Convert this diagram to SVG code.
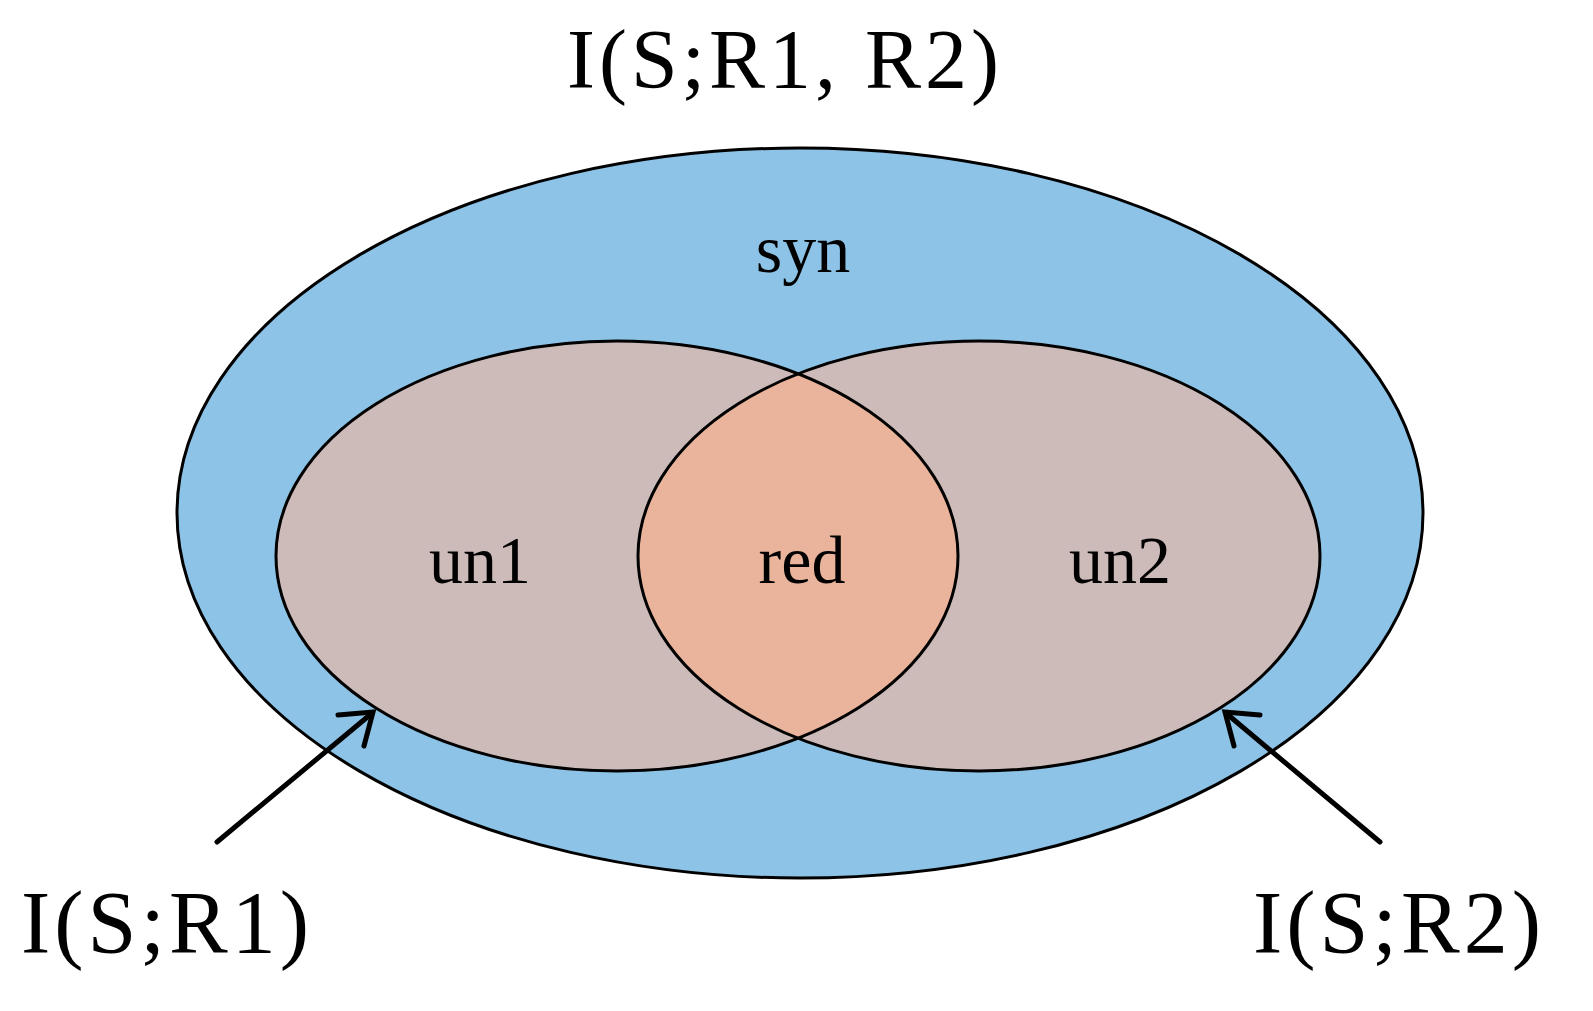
<svg xmlns="http://www.w3.org/2000/svg" width="1593" height="1011" viewBox="0 0 1593 1011">
<style>
text{font-family:"Liberation Serif","Noto Serif",serif;fill:#000}
.lbl{font-size:68px;text-anchor:middle}
.t{font-size:84px;letter-spacing:4px;text-anchor:middle}
.b{font-size:88px;letter-spacing:4px;text-anchor:middle}
.e{stroke:#000;stroke-width:3}
</style>
<defs>
<clipPath id="cl"><ellipse cx="617" cy="556" rx="341" ry="215"/></clipPath>
</defs>
<rect width="1593" height="1011" fill="#fff"/>
<g id="syn">
<ellipse class="e" cx="800" cy="513" rx="623" ry="365" fill="#8CC3E6"/>
<text class="lbl" x="803" y="272">syn</text>
</g>
<g id="un1"><ellipse cx="617" cy="556" rx="341" ry="215" fill="#CDBBBA"/></g>
<g id="un2"><ellipse cx="979" cy="556" rx="341" ry="215" fill="#CDBBBA"/></g>
<g id="red"><ellipse cx="979" cy="556" rx="341" ry="215" fill="#E9B49B" clip-path="url(#cl)"/></g>
<g id="outlines" fill="none">
<ellipse class="e" cx="617" cy="556" rx="341" ry="215"/>
<ellipse class="e" cx="979" cy="556" rx="341" ry="215"/>
</g>
<g id="labels">
<text class="lbl" x="480" y="583">un1</text>
<text class="lbl" x="802" y="583">red</text>
<text class="lbl" x="1120" y="583">un2</text>
<text class="t" x="785" y="88">I(S;R1, R2)</text>
<text class="b" x="167" y="952">I(S;R1)</text>
<text class="b" x="1399" y="952">I(S;R2)</text>
</g>
<g id="connectors" stroke="#000" stroke-width="5" fill="none" stroke-linecap="round" stroke-linejoin="miter">
<line x1="217" y1="842" x2="371" y2="714"/>
<polyline points="338,715 373,712 364,746"/>
<line x1="1380" y1="842" x2="1227" y2="714"/>
<polyline points="1260,715 1225,712 1234,746"/>
</g>
</svg>
